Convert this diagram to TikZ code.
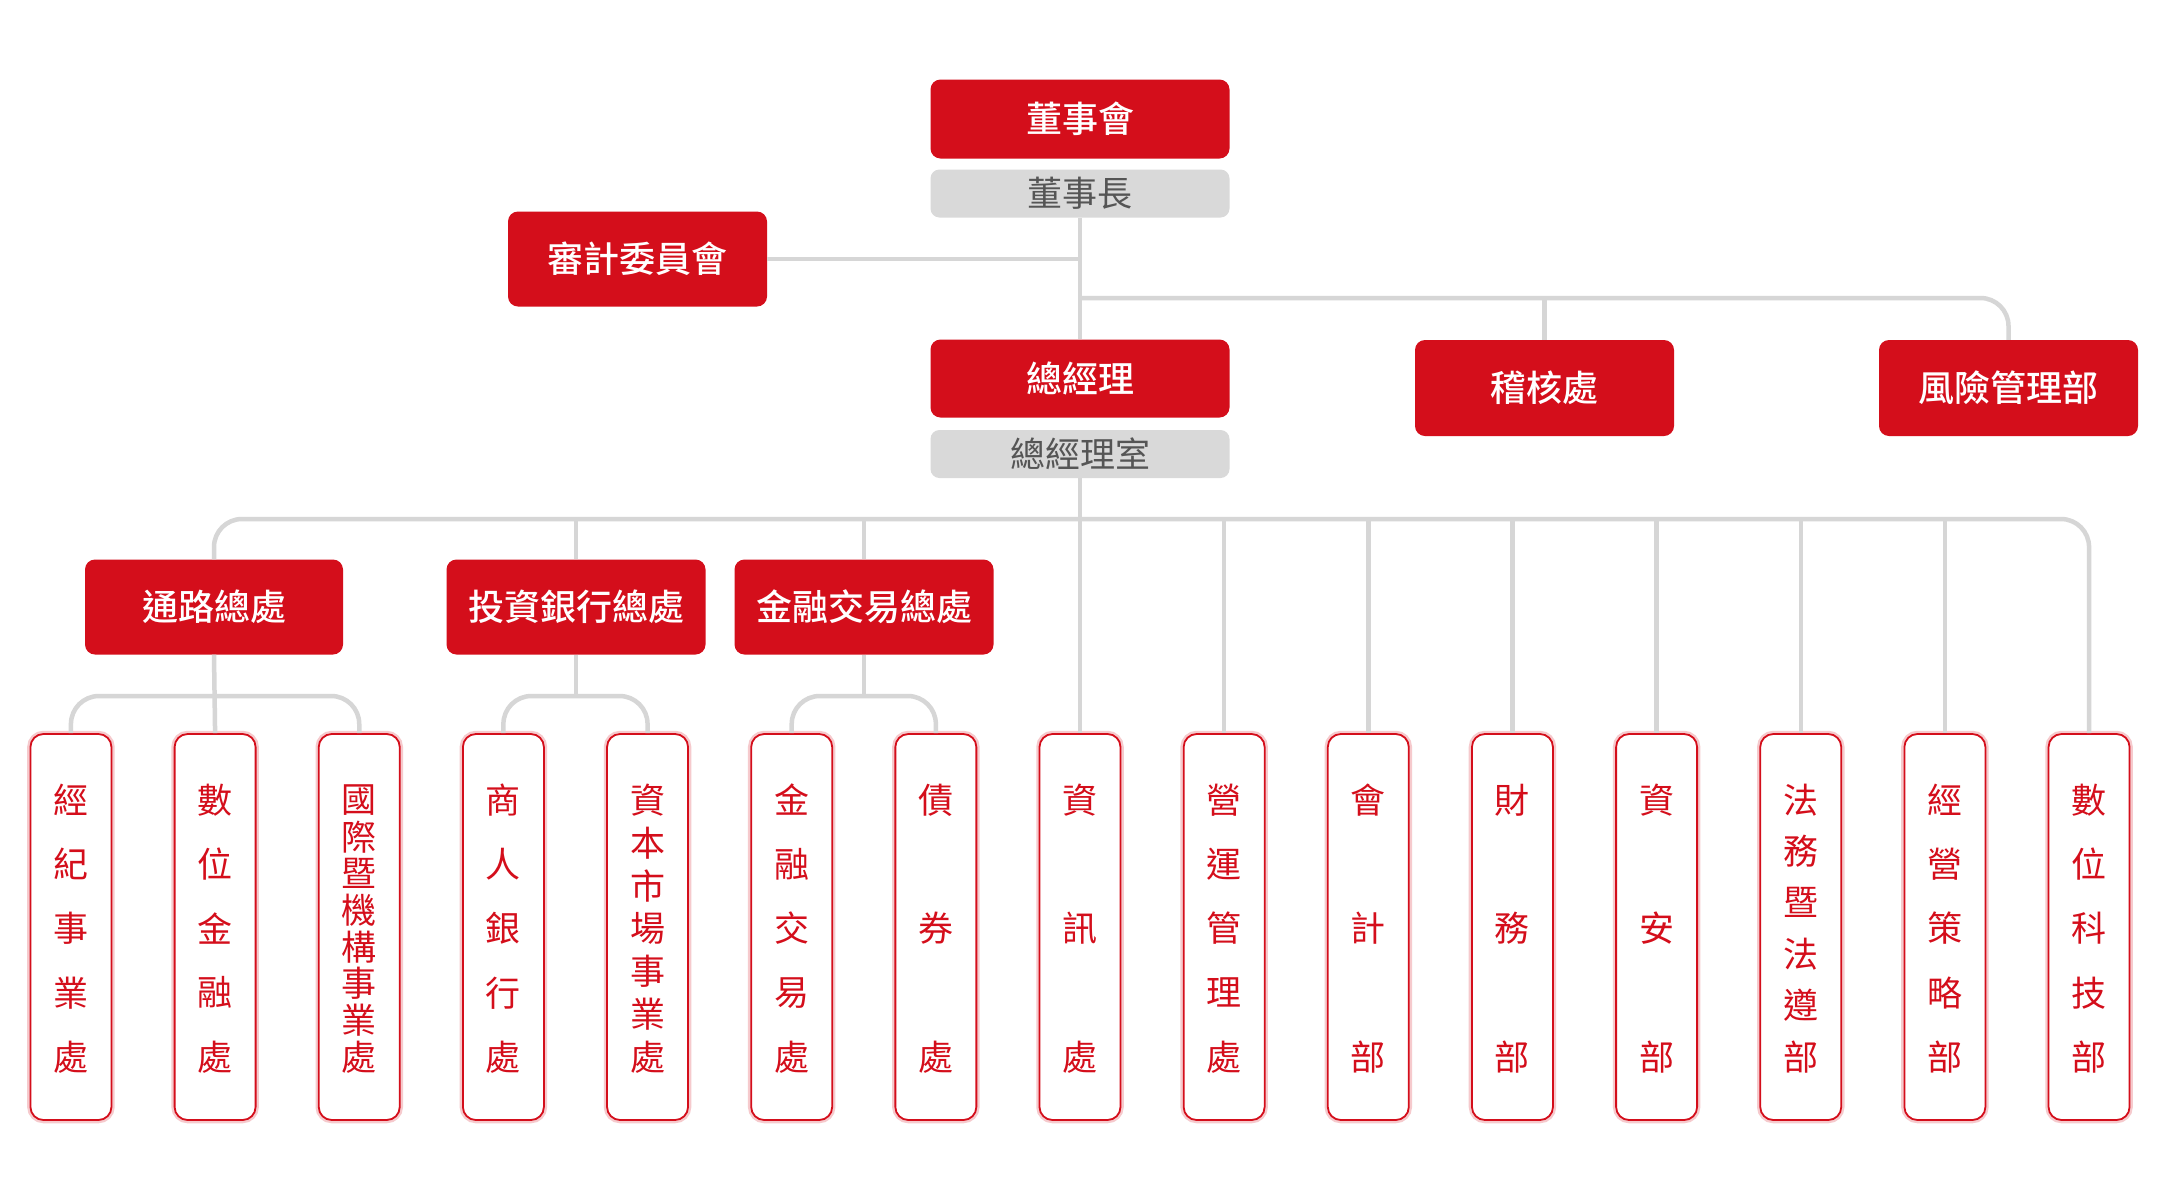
\documentclass[tikz,border=0pt]{standalone}
\usepackage{fontspec}
\setmainfont{Noto Sans CJK TC}
\newfontfamily\medfont{Noto Sans CJK TC Medium}
\usetikzlibrary{calc}
\definecolor{myred}{HTML}{D40E1B}
\definecolor{boxgray}{HTML}{D9D9D9}
\definecolor{linegray}{HTML}{D6D6D6}
\definecolor{textgray}{HTML}{555555}
\tikzset{
  redbox/.style={fill=myred, text=white, rounded corners=10, inner sep=0pt,
    font=\fontsize{36}{40}\medfont},
  graybox/.style={fill=boxgray, text=textgray, rounded corners=9, inner sep=0pt,
    minimum width=299, minimum height=48, font=\fontsize{35}{40}\selectfont},
  leafbox/.style={draw=myred, line width=1.8, fill=white, rounded corners=13,
    minimum width=81, minimum height=386, inner sep=0pt,
    preaction={draw=myred!22, line width=6.5}},
  leaftext/.style={text=myred, inner sep=0pt, font=\fontsize{35}{38}\selectfont},
  conn/.style={draw=linegray, line width=4.5},
  rconn/.style={conn, rounded corners=28}
}
\newcommand{\leafnode}[4]{%
  \node[leafbox] (#2) at ({1080+144.15*(#1-7)},927) {};
  \foreach \ch [count=\k] in {#4} {
    \node[leaftext] (#2-\k) at ({1080+144.15*(#1-7)},{800+(\k-1)*257/(#3-1)}) {\ch};
  }
}
\begin{document}
\begin{tikzpicture}[x=1pt,y=-1pt]
\useasboundingbox[fill=white] (0,0) rectangle (2160,1200);

% top level
\node[redbox, minimum width=299, minimum height=79] (board) at (1080,119) {董事會};
\node[graybox] (chair) at (1080,193.5) {董事長};
\node[redbox, minimum width=259, minimum height=95] (audit) at (637.5,259) {審計委員會};
\node[redbox, minimum width=299, minimum height=78] (gm) at (1080,378.5) {總經理};
\node[graybox] (gmo) at (1080,454) {總經理室};
\node[redbox, minimum width=259, minimum height=96] (insp) at (1544.5,388) {稽核處};
\node[redbox, minimum width=259, minimum height=96] (risk) at (2008.5,388) {風險管理部};

% second level groups
\node[redbox, minimum width=258, minimum height=95] (chan) at (214,607) {通路總處};
\node[redbox, minimum width=259, minimum height=95] (inv) at (576,607) {投資銀行總處};
\node[redbox, minimum width=259, minimum height=95] (fin) at (864,607) {金融交易總處};

% leaves
\leafnode{0}{l0}{5}{經,紀,事,業,處}
\leafnode{1}{l1}{5}{數,位,金,融,處}
\leafnode{2}{l2}{8}{國,際,暨,機,構,事,業,處}
\leafnode{3}{l3}{5}{商,人,銀,行,處}
\leafnode{4}{l4}{7}{資,本,市,場,事,業,處}
\leafnode{5}{l5}{5}{金,融,交,易,處}
\leafnode{6}{l6}{3}{債,券,處}
\leafnode{7}{l7}{3}{資,訊,處}
\leafnode{8}{l8}{5}{營,運,管,理,處}
\leafnode{9}{l9}{3}{會,計,部}
\leafnode{10}{l10}{3}{財,務,部}
\leafnode{11}{l11}{3}{資,安,部}
\leafnode{12}{l12}{6}{法,務,暨,法,遵,部}
\leafnode{13}{l13}{5}{經,營,策,略,部}
\leafnode{14}{l14}{5}{數,位,科,技,部}

\coordinate (j1) at (1080,298);
\coordinate (bus) at (1080,519);
\coordinate (sb) at (1080,696);

\draw[conn] (chair.south) -- (gm.north);
\draw[conn] (audit.east) -- (audit.east -| chair.south);
\draw[rconn] (j1) -| (risk.north);
\draw[conn] (insp.north |- j1) -- (insp.north);

\draw[conn] (gmo.south) -- (gmo.south |- bus);
\draw[rconn] (chan.north) -- (chan.north |- bus) -- (l14.north |- bus) -- (l14.north);
\draw[conn] (inv.north |- bus) -- (inv.north);
\draw[conn] (fin.north |- bus) -- (fin.north);
\foreach \n in {l7,l8,l9,l10,l11,l12,l13} {
  \draw[conn] (\n.north |- bus) -- (\n.north);
}

\draw[conn] (chan.south) -- (l1.north);
\draw[rconn] (l0.north) -- (l0.north |- sb) -- (l2.north |- sb) -- (l2.north);
\draw[conn] (inv.south) -- (inv.south |- sb);
\draw[rconn] (l3.north) -- (l3.north |- sb) -- (l4.north |- sb) -- (l4.north);
\draw[conn] (fin.south) -- (fin.south |- sb);
\draw[rconn] (l5.north) -- (l5.north |- sb) -- (l6.north |- sb) -- (l6.north);
\end{tikzpicture}
\end{document}
